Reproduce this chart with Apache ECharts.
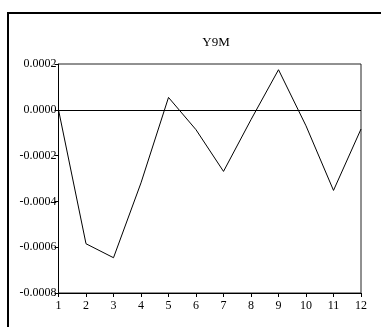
<!DOCTYPE html>
<html>
<head>
<meta charset="utf-8">
<style>
  html, body { margin: 0; padding: 0; background: #fff; }
  #chart { width: 381px; height: 327px; }
</style>
<script src="https://cdn.jsdelivr.net/npm/echarts@6/dist/echarts.min.js"></script>
</head>
<body>
<div id="chart"></div>
<script>
// Series Y9M over periods 1..12
const periods = [1, 2, 3, 4, 5, 6, 7, 8, 9, 10, 11, 12];
const y9m = [0, -0.000585, -0.000646, -0.000319, 0.000054, -0.000087,
             -0.000269, -0.000043, 0.000175, -0.00007, -0.000352, -0.000084];
const yTicks = [-0.0008, -0.0006, -0.0004, -0.0002, 0.0000, 0.0002];

const font = '"Liberation Serif", "DejaVu Serif", serif';
const chart = echarts.init(document.getElementById('chart'), null, { renderer: 'canvas' });

chart.setOption({
  animation: false,
  backgroundColor: '#fff',
  title: {
    text: 'Y9M',
    left: 211,
    top: 31,
    textAlign: 'center',
    textStyle: { fontFamily: font, fontSize: 13, fontWeight: 'normal', color: '#000' }
  },
  graphic: [{
    type: 'rect',
    shape: { x: 8, y: 13, width: 420, height: 420 },
    style: { fill: 'none', stroke: '#000', lineWidth: 2 },
    silent: true
  }],
  grid: {
    left: 58.5, right: 20, top: 64, bottom: 34,
    show: true, borderColor: '#222', borderWidth: 1, backgroundColor: 'transparent'
  },
  xAxis: {
    type: 'value',
    min: 1, max: 12, interval: 1,
    axisLine: { onZero: false, lineStyle: { color: '#000', width: 1 } },
    axisTick: { show: true, length: 4, lineStyle: { color: '#000' } },
    axisLabel: { fontFamily: font, fontSize: 12, color: '#000', margin: 7 },
    splitLine: { show: false }
  },
  yAxis: {
    type: 'value',
    min: yTicks[0], max: yTicks[yTicks.length - 1], interval: 0.0002,
    axisLine: { show: true, onZero: false, lineStyle: { color: '#000', width: 1 } },
    axisTick: { show: true, length: 4, lineStyle: { color: '#000' } },
    axisLabel: {
      fontFamily: font, fontSize: 12, color: '#000', margin: 2,
      formatter: v => (Math.abs(v) < 1e-12 ? '0.0000' : v.toFixed(4))
    },
    splitLine: { show: false }
  },
  series: [{
    type: 'line',
    data: periods.map((p, i) => [p, y9m[i]]),
    showSymbol: false,
    symbol: 'none',
    lineStyle: { color: '#000', width: 1 },
    markLine: {
      silent: true,
      symbol: 'none',
      label: { show: false },
      lineStyle: { color: '#000', width: 1, type: 'solid' },
      data: [{ yAxis: 0 }]
    }
  }]
});
</script>
</body>
</html>
